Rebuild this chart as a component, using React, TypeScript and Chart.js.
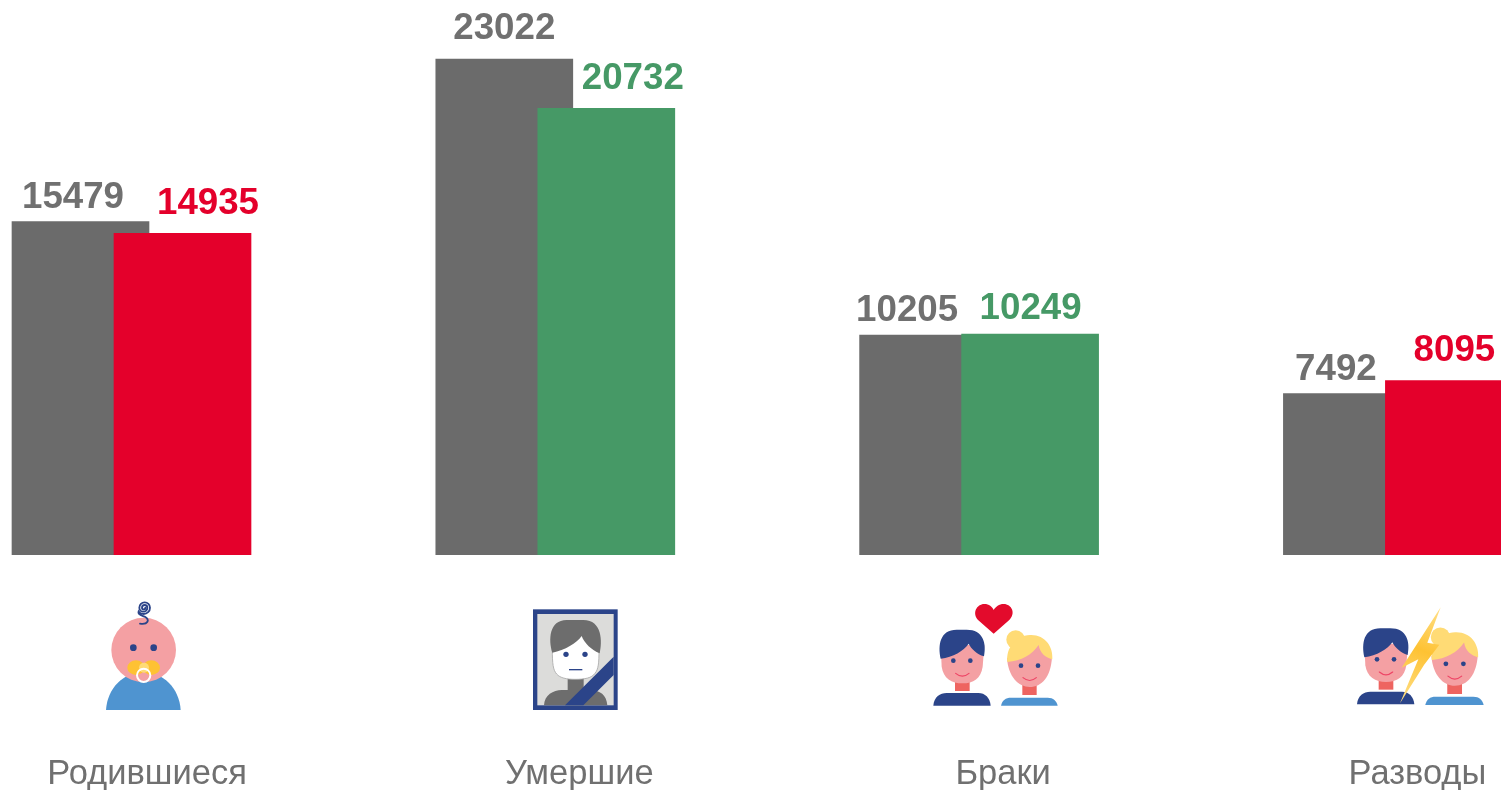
import React, { useEffect, useRef } from "react";
import { Chart, registerables } from "chart.js";

Chart.register(...registerables);

const categories = ["Родившиеся", "Умершие", "Браки", "Разводы"];
const previousValues = [15479, 23022, 10205, 7492];
const currentValues = [14935, 20732, 10249, 8095];
const currentColors = ["#e4002b", "#469966", "#469966", "#e4002b"];

const GRAY = "#6b6b6b";
const TEXT_GRAY = "#707070";
const W = 1501;
const H = 790;
const PX_PER_GROUP = 423.8;
const FIRST_CENTER_PX = 131.5;
const BAR_OFFSET = 51 / PX_PER_GROUP;
// Label nudges in px relative to the bar centre and top.
const previousNudgeX = [-7.5, 0, -21, -16];
const previousNudgeY = [-24, -30, -24, -24];
const currentNudgeX = [25.5, 26.5, 0.5, 0.5];
const currentNudgeY = [-29, -29, -25, -30];
const categoryNudgePx = [15.5, 24, 24, 14.5];

const NAVY = "#2b4489";
const SKIN = "#f4a0a3";
const NECK = "#ee6460";
const SMILE = "#ee4465";
const BLUE = "#4f94d0";
const YELLOW = "#fec233";
const BLOND = "#ffdb75";

type C = CanvasRenderingContext2D;

function dot(c: C, x: number, y: number, r: number, col: string) {
  c.fillStyle = col;
  c.beginPath();
  c.arc(x, y, r, 0, Math.PI * 2);
  c.fill();
}

function drawBaby(c: C) {
  c.save();
  c.translate(100, 595);
  c.scale(1 / 3, 1 / 3);
  c.fillStyle = BLUE;
  c.beginPath();
  c.moveTo(18, 345);
  c.bezierCurveTo(22, 280, 70, 232, 130, 232);
  c.bezierCurveTo(190, 232, 238, 280, 242, 345);
  c.closePath();
  c.fill();
  dot(c, 131, 165, 97, SKIN);
  dot(c, 100, 158, 10, NAVY);
  dot(c, 161, 158, 10, NAVY);
  c.fillStyle = YELLOW;
  c.beginPath();
  c.ellipse(108, 218, 26, 22, 0, 0, Math.PI * 2);
  c.ellipse(154, 218, 26, 22, 0, 0, Math.PI * 2);
  c.fill();
  dot(c, 132, 218, 15, BLOND);
  c.strokeStyle = "#ffffff";
  c.lineWidth = 6;
  c.beginPath();
  c.arc(131, 241, 20, 0, Math.PI * 2);
  c.stroke();
  c.strokeStyle = NAVY;
  c.lineWidth = 5.5;
  c.lineCap = "round";
  c.beginPath();
  c.arc(131, 38, 5, 0, Math.PI);
  c.arc(134, 38, 8, Math.PI, 0);
  c.arc(130, 38, 12, 0, Math.PI);
  c.arc(134, 38, 16, Math.PI, 0);
  c.arc(131, 38, 19, 0, 2.5);
  c.bezierCurveTo(112, 60, 128, 62, 136, 66);
  c.bezierCurveTo(150, 74, 144, 90, 120, 86);
  c.stroke();
  c.restore();
}

function drawPortrait(c: C) {
  c.save();
  c.translate(525, 600);
  c.scale(1 / 3, 1 / 3);
  c.fillStyle = NAVY;
  c.fillRect(24, 28, 254, 302);
  c.fillStyle = "#dcdcda";
  c.fillRect(37, 42, 229, 274);
  c.fillStyle = "#6d6d6d";
  c.beginPath();
  c.moveTo(57, 316);
  c.bezierCurveTo(58, 285, 85, 270, 110, 270);
  c.lineTo(128, 270);
  c.lineTo(128, 235);
  c.lineTo(176, 235);
  c.lineTo(176, 270);
  c.lineTo(195, 270);
  c.bezierCurveTo(225, 270, 245, 285, 247, 316);
  c.closePath();
  c.fill();
  c.fillStyle = "#ffffff";
  c.strokeStyle = "#a8a8a8";
  c.lineWidth = 2.5;
  c.beginPath();
  c.moveTo(82, 150);
  c.bezierCurveTo(82, 190, 84, 210, 95, 222);
  c.bezierCurveTo(105, 234, 125, 238, 150, 238);
  c.bezierCurveTo(180, 238, 200, 234, 210, 220);
  c.bezierCurveTo(220, 208, 222, 190, 222, 150);
  c.lineTo(222, 100);
  c.lineTo(82, 100);
  c.closePath();
  c.fill();
  c.stroke();
  c.fillStyle = "#6d6d6d";
  c.beginPath();
  c.moveTo(82, 158);
  c.bezierCurveTo(70, 120, 72, 60, 125, 60);
  c.lineTo(175, 60);
  c.bezierCurveTo(232, 60, 232, 125, 224, 160);
  c.bezierCurveTo(200, 150, 178, 130, 170, 108);
  c.bezierCurveTo(155, 130, 120, 150, 82, 158);
  c.closePath();
  c.fill();
  dot(c, 123, 163, 8, NAVY);
  dot(c, 180, 163, 8, NAVY);
  c.fillStyle = NAVY;
  c.fillRect(132, 207, 40, 4);
  c.beginPath();
  c.moveTo(120, 316);
  c.lineTo(266, 170);
  c.lineTo(266, 225);
  c.lineTo(175, 316);
  c.closePath();
  c.fill();
  c.restore();
}

function drawMan(c: C) {
  c.fillStyle = NECK;
  c.fillRect(90, 255, 44, 33);
  c.fillStyle = SKIN;
  c.beginPath();
  c.moveTo(47, 150);
  c.lineTo(50, 215);
  c.bezierCurveTo(55, 250, 80, 265, 112, 265);
  c.bezierCurveTo(145, 265, 168, 250, 173, 215);
  c.lineTo(178, 150);
  c.closePath();
  c.fill();
  c.fillStyle = NAVY;
  c.beginPath();
  c.moveTo(47, 191);
  c.bezierCurveTo(38, 150, 45, 104, 95, 104);
  c.lineTo(125, 104);
  c.bezierCurveTo(175, 104, 185, 145, 177, 184);
  c.bezierCurveTo(155, 178, 138, 160, 131, 146);
  c.bezierCurveTo(115, 168, 85, 186, 47, 191);
  c.closePath();
  c.fill();
  dot(c, 85, 197, 7, NAVY);
  dot(c, 136, 197, 7, NAVY);
  c.strokeStyle = SMILE;
  c.lineWidth = 3.5;
  c.lineCap = "round";
  c.beginPath();
  c.moveTo(92, 235);
  c.quadraticCurveTo(112, 252, 132, 235);
  c.stroke();
  c.fillStyle = NAVY;
  c.beginPath();
  c.moveTo(25, 332);
  c.bezierCurveTo(27, 305, 45, 294, 65, 294);
  c.lineTo(160, 294);
  c.bezierCurveTo(180, 294, 195, 308, 197, 332);
  c.closePath();
  c.fill();
}

function drawWoman(c: C) {
  c.fillStyle = NECK;
  c.fillRect(292, 265, 43, 35);
  c.fillStyle = SKIN;
  c.beginPath();
  c.moveTo(246, 190);
  c.bezierCurveTo(250, 245, 280, 276, 314, 276);
  c.bezierCurveTo(350, 276, 378, 245, 381, 185);
  c.lineTo(340, 140);
  c.closePath();
  c.fill();
  dot(c, 272, 134, 28, BLOND);
  c.fillStyle = BLOND;
  c.beginPath();
  c.moveTo(247, 201);
  c.bezierCurveTo(243, 160, 270, 122, 315, 120);
  c.bezierCurveTo(360, 118, 385, 155, 382, 193);
  c.bezierCurveTo(362, 188, 345, 175, 341, 150);
  c.bezierCurveTo(320, 180, 290, 197, 247, 201);
  c.closePath();
  c.fill();
  dot(c, 288, 212, 7, NAVY);
  dot(c, 339, 212, 7, NAVY);
  c.strokeStyle = SMILE;
  c.lineWidth = 3.5;
  c.lineCap = "round";
  c.beginPath();
  c.moveTo(294, 248);
  c.quadraticCurveTo(314, 265, 334, 248);
  c.stroke();
  c.fillStyle = BLUE;
  c.beginPath();
  c.moveTo(228, 332);
  c.bezierCurveTo(232, 315, 242, 308, 258, 308);
  c.lineTo(368, 308);
  c.bezierCurveTo(385, 308, 395, 318, 398, 332);
  c.closePath();
  c.fill();
}

function drawMarriage(c: C) {
  c.save();
  c.translate(925, 595);
  c.scale(1 / 3, 1 / 3);
  drawMan(c);
  drawWoman(c);
  c.fillStyle = "#e30b2c";
  c.beginPath();
  c.moveTo(206, 116);
  c.lineTo(160, 76);
  c.bezierCurveTo(140, 55, 155, 27, 178, 27);
  c.bezierCurveTo(192, 27, 202, 35, 206, 45);
  c.bezierCurveTo(212, 35, 222, 27, 236, 27);
  c.bezierCurveTo(260, 27, 274, 55, 252, 76);
  c.closePath();
  c.fill();
  c.restore();
}

function drawDivorce(c: C) {
  c.save();
  c.translate(1350, 600);
  c.scale(1 / 3, 1 / 3);
  c.save();
  c.translate(-4, -19);
  drawMan(c);
  c.restore();
  c.save();
  c.translate(-9, -27);
  c.scale(1.03, 1.03);
  drawWoman(c);
  c.restore();
  const g = c.createLinearGradient(272, 22, 150, 310);
  g.addColorStop(0, "#ffe08a");
  g.addColorStop(0.45, YELLOW);
  g.addColorStop(1, "#ffe08a");
  c.fillStyle = g;
  c.beginPath();
  c.moveTo(272, 22);
  c.lineTo(232, 128);
  c.lineTo(268, 134);
  c.lineTo(222, 195);
  c.lineTo(150, 310);
  c.lineTo(205, 178);
  c.lineTo(155, 203);
  c.closePath();
  c.fill();
  c.restore();
}

const iconsPlugin = {
  id: "icons",
  afterDraw(chart: any) {
    const c: C = chart.ctx;
    drawBaby(c);
    drawPortrait(c);
    drawMarriage(c);
    drawDivorce(c);
  },
};

const valueLabels = {
  id: "valueLabels",
  afterDatasetsDraw(chart: any) {
    const c: C = chart.ctx;
    const chartPlan = [
      { index: 1, values: previousValues, colors: categories.map(() => TEXT_GRAY), nx: previousNudgeX, ny: previousNudgeY },
      { index: 0, values: currentValues, colors: currentColors, nx: currentNudgeX, ny: currentNudgeY },
    ];
    c.save();
    c.font = "bold 36.7px 'Liberation Sans'";
    c.textAlign = "center";
    c.textBaseline = "middle";
    for (const p of chartPlan) {
      const meta = chart.getDatasetMeta(p.index);
      p.values.forEach((v, i) => {
        const el = meta.data[i];
        c.fillStyle = p.colors[i];
        c.fillText(String(v), el.x + p.nx[i], el.y + p.ny[i]);
      });
    }
    c.restore();
  },
};

export default function App() {
  const ref = useRef<HTMLCanvasElement>(null);
  useEffect(() => {
    if (!ref.current) return;
    const chart = new Chart(ref.current, {
      type: "bar",
      data: {
        datasets: [
          {
            label: "Текущий",
            data: currentValues.map((y, i) => ({ x: i + BAR_OFFSET, y })),
            backgroundColor: currentColors,
            barThickness: 137,
            grouped: false,
          },
          {
            label: "Предыдущий",
            data: previousValues.map((y, i) => ({ x: i - BAR_OFFSET, y })),
            backgroundColor: GRAY,
            barThickness: 137,
            grouped: false,
          },
        ] as any,
      },
      options: {
        responsive: false,
        animation: false,
        layout: { padding: 0 },
        plugins: { legend: { display: false }, tooltip: { enabled: false }, title: { display: false } },
        scales: {
          x: {
            type: "linear",
            offset: false,
            min: -FIRST_CENTER_PX / PX_PER_GROUP,
            max: (W - FIRST_CENTER_PX) / PX_PER_GROUP,
            grid: { display: false },
            border: { display: false },
            afterBuildTicks(axis: any) {
              axis.ticks = categories.map((_, i) => ({ value: i + categoryNudgePx[i] / PX_PER_GROUP }));
            },
            afterFit(axis: any) {
              axis.height = H - 555;
              axis.paddingLeft = 0;
              axis.paddingRight = 0;
            },
            ticks: {
              autoSkip: false,
              maxRotation: 0,
              minRotation: 0,
              padding: 191,
              color: TEXT_GRAY,
              font: { family: "'Liberation Sans'", size: 34.5 },
              callback: (_v: any, i: number) => categories[i],
            },
          },
          y: {
            display: false,
            min: 0,
            max: 555 / 0.021545,
          },
        },
      } as any,
      plugins: [valueLabels, iconsPlugin],
    });
    return () => chart.destroy();
  }, []);
  return (
    <canvas
      ref={ref}
      width={W}
      height={H}
      style={{ position: "fixed", left: 0, top: 0, width: W, height: H, display: "block" }}
    />
  );
}
